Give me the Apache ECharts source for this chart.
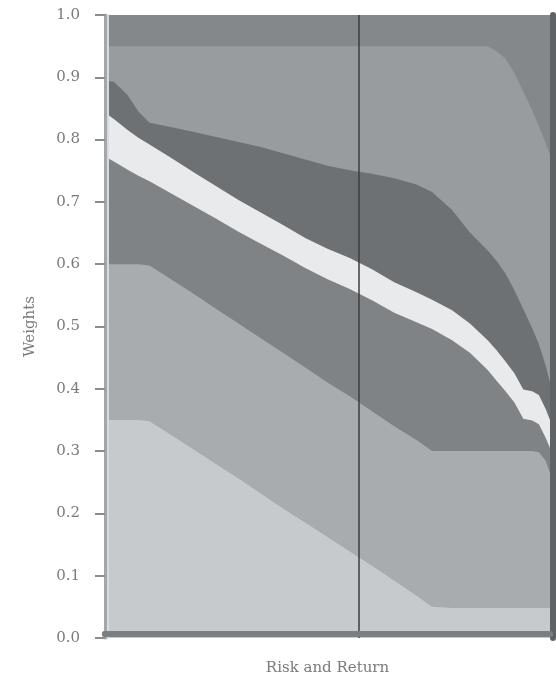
<!DOCTYPE html>
<html>
<head>
<meta charset="utf-8">
<script src="https://cdn.jsdelivr.net/npm/echarts@6/dist/echarts.min.js"></script>
<style>
  html, body { margin: 0; padding: 0; background: #ffffff; }
  #chart { width: 556px; height: 681px; }
</style>
</head>
<body>
<div id="chart"></div>
<script>
// Positions along the efficient frontier (low risk on the left, high risk on the right)
const portfolios = [0, 2, 5, 7.5, 10, 15, 20, 25, 30, 35, 40, 45, 50, 55, 60, 65, 70, 73.5, 78, 82, 86, 88, 90, 92, 94, 96, 97.5, 99, 100];

// Portfolio weights of each asset, listed from the bottom of the stack up
const assetA = [0.35, 0.35, 0.35, 0.35, 0.348, 0.325, 0.302, 0.279, 0.256, 0.232, 0.208, 0.185, 0.162, 0.139, 0.116, 0.092, 0.068, 0.05, 0.048, 0.048, 0.048, 0.048, 0.048, 0.048, 0.048, 0.048, 0.048, 0.048, 0.048];
const assetB = [0.25, 0.25, 0.25, 0.25, 0.25, 0.25, 0.25, 0.249, 0.249, 0.249, 0.25, 0.249, 0.248, 0.249, 0.248, 0.248, 0.25, 0.25, 0.252, 0.252, 0.252, 0.252, 0.252, 0.252, 0.252, 0.252, 0.25, 0.237, 0.217];
const assetC = [0.173, 0.165, 0.152, 0.142, 0.135, 0.138, 0.141, 0.145, 0.147, 0.152, 0.156, 0.16, 0.166, 0.172, 0.178, 0.182, 0.189, 0.196, 0.178, 0.158, 0.13, 0.113, 0.096, 0.078, 0.052, 0.049, 0.045, 0.037, 0.04];
const assetD = [0.07, 0.068, 0.064, 0.061, 0.059, 0.057, 0.054, 0.052, 0.051, 0.05, 0.049, 0.048, 0.049, 0.05, 0.05, 0.049, 0.048, 0.047, 0.048, 0.047, 0.048, 0.049, 0.048, 0.047, 0.047, 0.047, 0.047, 0.046, 0.045];
const assetE = [0.052, 0.06, 0.056, 0.042, 0.035, 0.05, 0.065, 0.079, 0.093, 0.105, 0.115, 0.126, 0.133, 0.141, 0.153, 0.167, 0.173, 0.173, 0.161, 0.146, 0.144, 0.143, 0.141, 0.133, 0.129, 0.101, 0.082, 0.07, 0.06];
const assetF = [0.055, 0.057, 0.078, 0.105, 0.123, 0.13, 0.138, 0.146, 0.154, 0.162, 0.172, 0.182, 0.192, 0.199, 0.205, 0.212, 0.222, 0.234, 0.263, 0.299, 0.328, 0.337, 0.345, 0.349, 0.349, 0.35, 0.35, 0.357, 0.365];
const assetG = [0.05, 0.05, 0.05, 0.05, 0.05, 0.05, 0.05, 0.05, 0.05, 0.05, 0.05, 0.05, 0.05, 0.05, 0.05, 0.05, 0.05, 0.05, 0.05, 0.05, 0.05, 0.058, 0.07, 0.093, 0.123, 0.153, 0.178, 0.205, 0.225];

// Highlighted portfolio on the frontier
const selectedPortfolio = 57;

// Weight axis ticks
const weightTicks = { min: 0, max: 1, interval: 0.1 };

const assets = [
  { name: 'Asset A', values: assetA, color: '#c7cacd' },
  { name: 'Asset B', values: assetB, color: '#a9acaf' },
  { name: 'Asset C', values: assetC, color: '#7f8386' },
  { name: 'Asset D', values: assetD, color: '#e9eaeb' },
  { name: 'Asset E', values: assetE, color: '#6d7174' },
  { name: 'Asset F', values: assetF, color: '#999c9f' },
  { name: 'Asset G', values: assetG, color: '#84888b' }
];

const serifFont = "'DejaVu Serif', 'Liberation Serif', serif";

// Running totals: each band is the area between one cumulative curve and the one below it.
// Bands are painted from the top of the stack down, each filled to zero.
const cumulative = [];
assets.forEach(function (a, i) {
  cumulative.push(portfolios.map(function (x, k) {
    const below = i > 0 ? cumulative[i - 1][k] : 0;
    return below + a.values[k];
  }));
});

const series = [];
for (let i = assets.length - 1; i >= 0; i--) {
  const a = assets[i];
  series.push({
    name: a.name,
    type: 'line',
    symbol: 'none',
    smooth: false,
    lineStyle: { width: 0 },
    areaStyle: { color: a.color, opacity: 1, origin: 'start' },
    itemStyle: { color: a.color },
    data: portfolios.map(function (x, k) { return [x, cumulative[i][k]]; }),
    z: 2
  });
}
series.push({
  name: 'Selected portfolio',
  type: 'line',
  data: [],
  z: 7,
  markLine: {
    silent: true,
    symbol: ['none', 'none'],
    label: { show: false },
    lineStyle: { color: '#3b3e41', width: 1.5, type: 'solid' },
    data: [{ xAxis: selectedPortfolio }]
  }
});

const chart = echarts.init(document.getElementById('chart'), null, { renderer: 'canvas' });
chart.setOption({
  animation: false,
  backgroundColor: '#ffffff',
  grid: { left: 105, right: 6, top: 15, bottom: 41, containLabel: false },
  xAxis: [
    {
      type: 'value', min: 0, max: 100, position: 'bottom', offset: -4, z: 6,
      name: 'Risk and Return', nameLocation: 'middle', nameGap: 27,
      nameTextStyle: { fontFamily: serifFont, fontSize: 15, color: '#7a7a7a' },
      axisLine: { show: true, lineStyle: { color: '#707376', width: 6 } },
      axisTick: { show: false }, axisLabel: { show: false }, splitLine: { show: false }
    },
    {
      type: 'value', min: 0, max: 100, position: 'top', offset: -4, z: 6,
      axisLine: { show: true, lineStyle: { color: '#7b7f82', width: 6 } },
      axisTick: { show: false }, axisLabel: { show: false }, splitLine: { show: false }
    }
  ],
  yAxis: [
    {
      type: 'value', min: weightTicks.min, max: weightTicks.max, interval: weightTicks.interval,
      position: 'left', offset: 7, z: 6,
      name: 'Weights', nameLocation: 'middle', nameGap: 60,
      nameTextStyle: { fontFamily: serifFont, fontSize: 15, color: '#7a7a7a' },
      axisLine: { show: false },
      axisTick: { show: true, length: 10, lineStyle: { color: '#8c8c8c', width: 2 } },
      axisLabel: {
        margin: 18, fontFamily: serifFont, fontSize: 15, color: '#7b7b7b',
        formatter: function (v) { return v.toFixed(1); }
      },
      splitLine: { show: false }
    },
    {
      type: 'value', min: weightTicks.min, max: weightTicks.max, position: 'left', offset: 0, z: 6,
      axisLine: { show: true, lineStyle: { color: '#a4a7aa', width: 3 } },
      axisTick: { show: false }, axisLabel: { show: false }, splitLine: { show: false }
    },
    {
      type: 'value', min: weightTicks.min, max: weightTicks.max, position: 'left', offset: -2.5, z: 6,
      axisLine: { show: true, lineStyle: { color: '#d9dadb', width: 2 } },
      axisTick: { show: false }, axisLabel: { show: false }, splitLine: { show: false }
    },
    {
      type: 'value', min: weightTicks.min, max: weightTicks.max, position: 'right', offset: 3, z: 6,
      axisLine: { show: true, lineStyle: { color: '#5f6366', width: 6 } },
      axisTick: { show: false }, axisLabel: { show: false }, splitLine: { show: false }
    }
  ],
  series: series
});
</script>
</body>
</html>
